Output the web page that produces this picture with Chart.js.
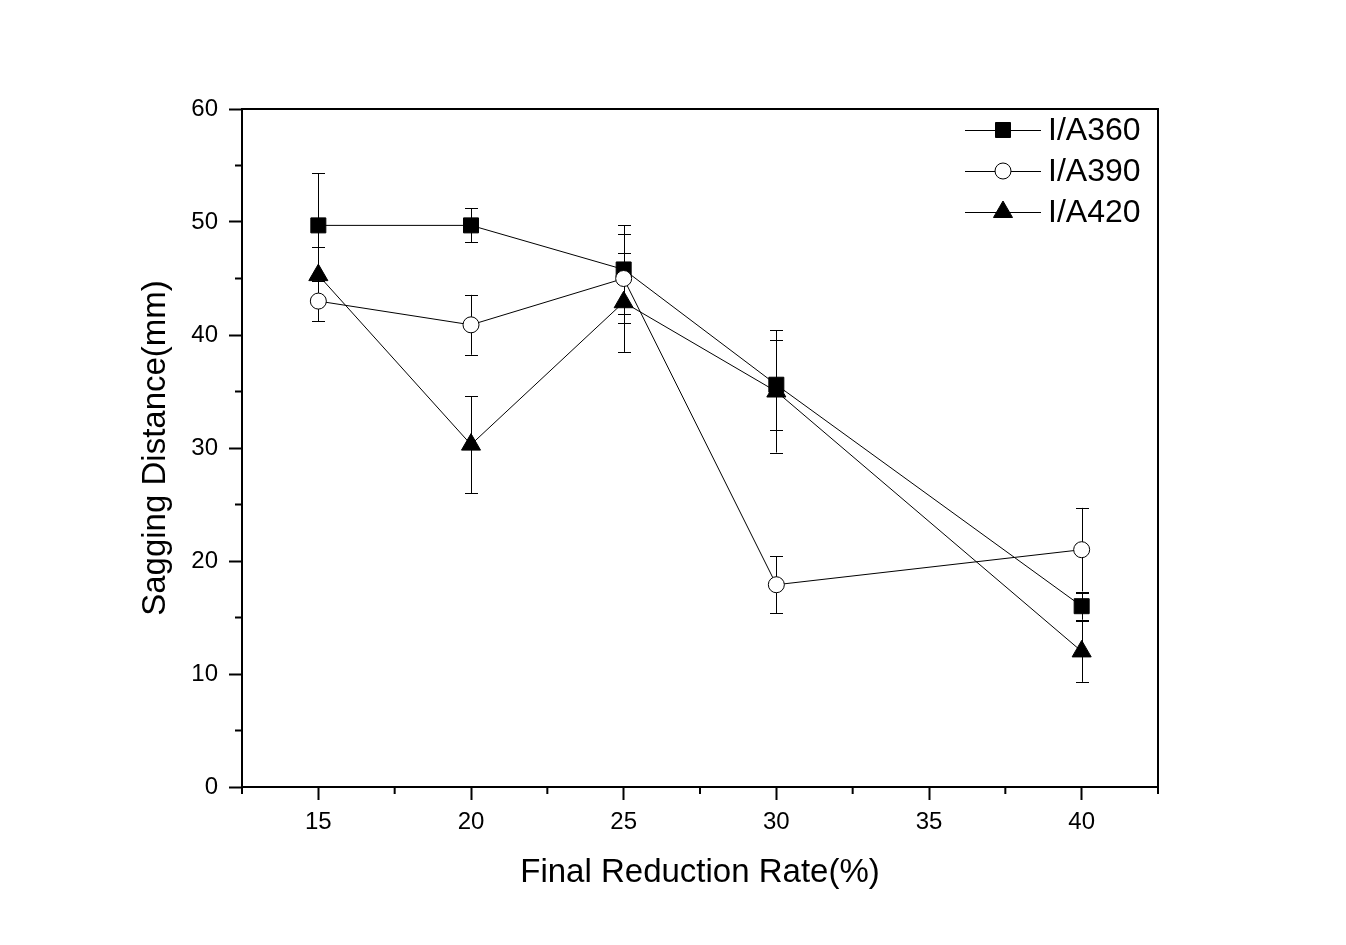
<!DOCTYPE html>
<html>
<head>
<meta charset="utf-8">
<script src="https://cdn.jsdelivr.net/npm/chart.js@4/dist/chart.umd.min.js"></script>
<style>
  body { margin: 0; background: #fff; }
</style>
</head>
<body>
<canvas id="myChart" width="1346" height="945"></canvas>
<script>
  // values
  const rates = [15, 20, 25, 30, 40];
  const seriesNames = ['I/A360', 'I/A390', 'I/A420'];
  const ia360 = [49.7, 49.7, 45.8, 35.6, 16.0];
  const ia390 = [43.0, 40.9, 45.0, 17.9, 21.0];
  const ia420 = [45.3, 30.3, 42.9, 35.0, 12.0];
  const err360 = [4.6, 1.5, 3.9, 4.0, 1.2];
  const err390 = [1.8, 2.65, 3.9, 2.5, 3.7];
  const err420 = [2.5, 4.3, 4.4, 5.4, 2.7];

  const FONT = '"Liberation Sans", Arial, sans-serif';
  Chart.defaults.font.family = FONT;
  Chart.defaults.color = '#000';

  function pts(vals) {
    return rates.map((r, i) => ({ x: r, y: vals[i] }));
  }

  // vertical error bars with caps
  const errorBars = {
    id: 'errorBars',
    beforeDatasetsDraw(chart) {
      const ctx = chart.ctx;
      const xs = chart.scales.x, ys = chart.scales.y;
      ctx.save();
      ctx.strokeStyle = '#000';
      ctx.lineWidth = 1;
      chart.data.datasets.forEach(ds => {
        ds.data.forEach((p, i) => {
          const e = ds.errors[i];
          const px = Math.round(xs.getPixelForValue(p.x)) + 0.5;
          const top = ys.getPixelForValue(p.y + e);
          const bot = ys.getPixelForValue(p.y - e);
          ctx.beginPath();
          ctx.moveTo(px, top); ctx.lineTo(px, bot);
          ctx.moveTo(px - 6.5, Math.round(top) + 0.5); ctx.lineTo(px + 6.5, Math.round(top) + 0.5);
          ctx.moveTo(px - 6.5, Math.round(bot) + 0.5); ctx.lineTo(px + 6.5, Math.round(bot) + 0.5);
          ctx.stroke();
        });
      });
      ctx.restore();
    }
  };

  // frame, minor ticks and legend
  const frame = {
    id: 'frame',
    afterDraw(chart) {
      const ctx = chart.ctx;
      const a = chart.chartArea;
      const xs = chart.scales.x, ys = chart.scales.y;
      ctx.save();
      ctx.strokeStyle = '#000';
      ctx.lineWidth = 2;
      ctx.strokeRect(a.left, a.top, a.right - a.left, a.bottom - a.top);

      // minor ticks
      ctx.beginPath();
      xs.ticks.forEach(t => {
        if (t.value % 5 !== 0) {
          const px = xs.getPixelForValue(t.value);
          ctx.moveTo(px, a.bottom); ctx.lineTo(px, a.bottom + 7);
        }
      });
      ys.ticks.forEach(t => {
        if (t.value % 10 !== 0) {
          const py = ys.getPixelForValue(t.value);
          ctx.moveTo(a.left, py); ctx.lineTo(a.left - 7, py);
        }
      });
      ctx.stroke();

      // legend
      const lx = a.right - 193;
      chart.data.datasets.forEach((ds, i) => {
        const y = a.top + 21 + i * 41;
        ctx.lineWidth = 1;
        ctx.beginPath();
        ctx.moveTo(lx, y + 0.5); ctx.lineTo(lx + 76, y + 0.5);
        ctx.stroke();
        ctx.fillStyle = ds.pointBackgroundColor;
        ctx.strokeStyle = '#000';
        Chart.helpers.drawPoint(ctx, {
          pointStyle: ds.pointStyle, radius: ds.pointRadius,
          rotation: 0, borderWidth: 1
        }, lx + 38, y);
        ctx.fillStyle = '#000';
        ctx.font = '32px ' + FONT;
        ctx.textAlign = 'left';
        ctx.textBaseline = 'middle';
        ctx.fillText(ds.label, lx + 83, y + 1);
      });
      ctx.restore();
    }
  };

  function series(label, vals, errs, style, radius, fill, order) {
    return {
      label: label,
      data: pts(vals),
      errors: errs,
      borderColor: '#000',
      borderWidth: 1,
      pointStyle: style,
      pointRadius: radius,
      pointHoverRadius: radius,
      pointBackgroundColor: fill,
      pointBorderColor: '#000',
      pointBorderWidth: 1,
      tension: 0,
      order: order
    };
  }

  const ctx = document.getElementById('myChart');

  new Chart(ctx, {
    type: 'line',
    data: {
      datasets: [
        series(seriesNames[0], ia360, err360, 'rect', 10.6, '#000', 3),
        series(seriesNames[1], ia390, err390, 'circle', 8, '#fff', 2),
        series(seriesNames[2], ia420, err420, 'triangle', 11, '#000', 1)
      ]
    },
    options: {
      responsive: false,
      animation: false,
      layout: { padding: { top: 109, right: 188, left: 0, bottom: 0 } },
      plugins: { legend: { display: false }, tooltip: { enabled: false } },
      scales: {
        x: {
          type: 'linear',
          min: 12.5,
          max: 42.5,
          afterFit(scale) { scale.height = 158; },
          ticks: {
            stepSize: 2.5,
            autoSkip: false,
            maxRotation: 0,
            padding: 8,
            font: { size: 24 },
            callback: v => (v % 5 === 0 ? v : '')
          },
          grid: {
            drawOnChartArea: false,
            tickLength: 13,
            tickWidth: 2,
            tickColor: c => (c.tick && c.tick.value % 5 === 0 ? '#000' : 'rgba(0,0,0,0)')
          },
          border: { color: '#000', width: 2 },
          title: {
            display: true,
            text: 'Final Reduction Rate(%)',
            font: { size: 33 },
            padding: { top: 0, bottom: 52 }
          }
        },
        y: {
          min: 0,
          max: 60,
          afterFit(scale) { scale.width = 242; },
          ticks: {
            stepSize: 5,
            autoSkip: false,
            padding: 11,
            font: { size: 24 },
            callback: v => (v % 10 === 0 ? v : '')
          },
          grid: {
            drawOnChartArea: false,
            tickLength: 13,
            tickWidth: 2,
            tickColor: c => (c.tick && c.tick.value % 10 === 0 ? '#000' : 'rgba(0,0,0,0)')
          },
          border: { color: '#000', width: 2 },
          title: {
            display: true,
            text: 'Sagging Distance(mm)',
            font: { size: 33 },
            padding: { top: 136, bottom: 0 }
          }
        }
      }
    },
    plugins: [errorBars, frame]
  });
</script>
</body>
</html>
